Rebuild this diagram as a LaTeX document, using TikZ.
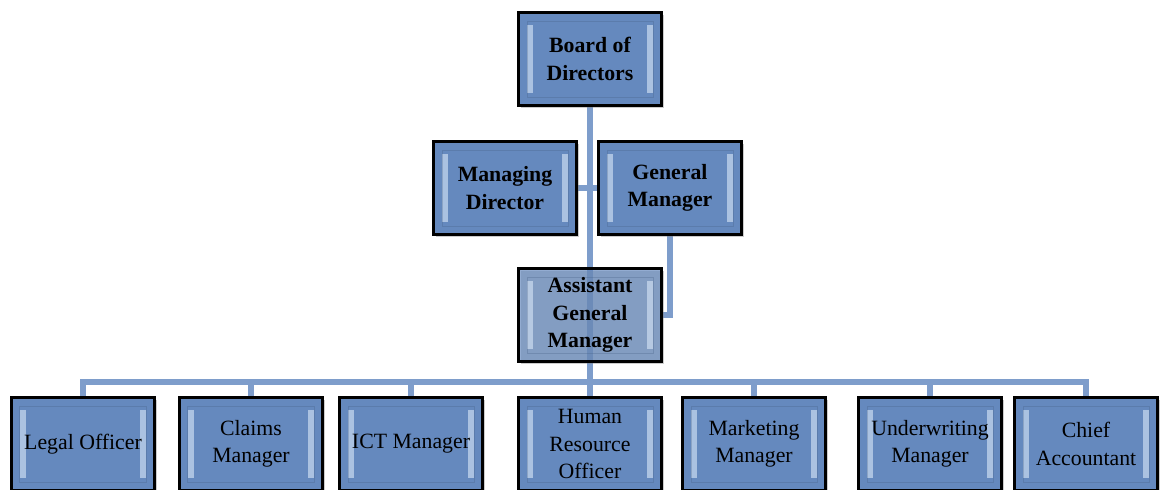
\documentclass[tikz,border=0pt]{standalone}
\usepackage{fontspec}
\setmainfont{Liberation Serif}
\usetikzlibrary{shadows, backgrounds}
\definecolor{boxblue}{HTML}{6589BE}
\definecolor{lineblue}{HTML}{7E9DCB}
\definecolor{bevel}{HTML}{D2E1F4}
\tikzset{
	orgbox/.style={draw=black, line width=1.8pt, fill=boxblue, align=center,
		minimum width=3.575cm, minimum height=2.325cm, inner sep=2pt,
		font=\fontsize{15.5}{19.5}\selectfont,
		drop shadow={shadow xshift=1.8pt, shadow yshift=-1.8pt, opacity=0.4},
		path picture={
			\fill[bevel, opacity=0.65] ([xshift=6pt,yshift=-9pt]path picture bounding box.north west) rectangle ([xshift=10pt,yshift=9pt]path picture bounding box.south west);
			\fill[bevel, opacity=0.65] ([xshift=-6pt,yshift=-9pt]path picture bounding box.north east) rectangle ([xshift=-10pt,yshift=9pt]path picture bounding box.south east);
			\draw[boxblue!70!black, opacity=0.3, line width=0.6pt] ([xshift=6pt,yshift=-6pt]path picture bounding box.north west) rectangle ([xshift=-6pt,yshift=6pt]path picture bounding box.south east);
		}},
	topbox/.style={orgbox, font=\fontsize{15.5}{19.5}\selectfont\bfseries},
	link/.style={draw=lineblue, line width=4.3pt}
}

\begin{document}
\begin{tikzpicture}[x=0.025cm, y=-0.025cm]
	\useasboundingbox (0,0) rectangle (1163,489);
	
	% upper levels
	\node[topbox] (board) at (590,59) {Board of\\Directors};
	\node[topbox] (md) at (505,188) {Managing\\Director};
	\node[topbox] (gm) at (670,188) {General\\Manager};
	\node[topbox, fill opacity=0.7, text opacity=1] (agm) at (590,315) {Assistant\\General\\Manager};
	\coordinate (bus) at (590,382);
	
	% bottom row
	\foreach \nm/\xx/\txt in {legal/83/Legal Officer, claims/251/{Claims\\Manager}, ict/411/ICT Manager,
		hr/590/{Human\\Resource\\Officer}, mkt/754/{Marketing\\Manager}, uw/930/{Underwriting\\Manager},
		chief/1086/{Chief\\Accountant}}{
		\node[orgbox] (\nm) at (\xx,444) {\txt};
		\begin{scope}[on background layer]
			\draw[link] (bus) -| (\nm.north);
		\end{scope}
	}
	
	\begin{scope}[on background layer]
		\draw[link] (board.south) -- (bus);
		\draw[link] (md.east) -- (gm.west);
		\draw[link] (gm.south) |- (agm.east);
	\end{scope}
\end{tikzpicture}
\end{document}
